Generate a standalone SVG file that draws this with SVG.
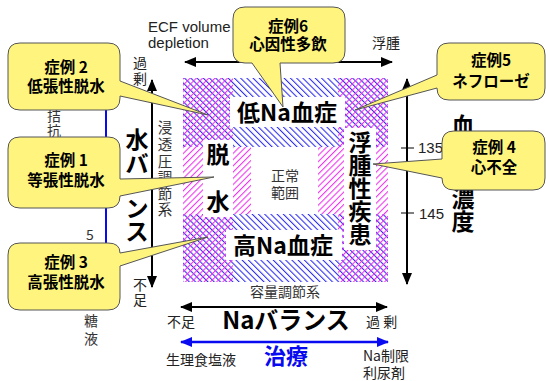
<svg xmlns="http://www.w3.org/2000/svg" width="546" height="381" viewBox="0 0 546 381">
<style>
.jp{font-family:"Noto Sans CJK JP","Noto Sans",sans-serif}
.lat{font-family:"Liberation Sans",Arial,sans-serif}
.sm{font-size:14px;fill:#222}
.big{font-size:23px;font-weight:bold;fill:#000}
.co{font-size:15.5px;font-weight:bold;fill:#000}
.callout{fill:#fff57e;stroke:#555;stroke-width:1}
.ax{stroke:#000;stroke-width:2;fill:none}
.bl{stroke:#0a0af0;stroke-width:2.5;fill:none}
</style>
<defs>
<pattern id="pm" patternUnits="userSpaceOnUse" width="4.4" height="10" patternTransform="rotate(45)"><rect x="0" y="0" width="1.05" height="10" fill="#f030f0"/></pattern>
<pattern id="pb" patternUnits="userSpaceOnUse" width="4.4" height="10" patternTransform="rotate(-45)"><rect x="0" y="0" width="1.05" height="10" fill="#2a2af0"/></pattern>
<marker id="ak" viewBox="0 0 12 10" refX="11" refY="5" markerUnits="userSpaceOnUse" markerWidth="12" markerHeight="10" orient="auto-start-reverse"><path d="M0,0 L12,5 L0,10 z" fill="#000"/></marker>
<marker id="ab" viewBox="0 0 12 10" refX="11" refY="5" markerUnits="userSpaceOnUse" markerWidth="12" markerHeight="10" orient="auto-start-reverse"><path d="M0,0 L12,5 L0,10 z" fill="#0a0af0"/></marker>
</defs>
<rect width="546" height="381" fill="#fff"/>

<g id="grid">
<rect x="183" y="78" width="205" height="204" rx="4" fill="#fff"/>
<rect x="183" y="78" width="205" height="69" fill="url(#pb)"/>
<rect x="183" y="214" width="205" height="68" fill="url(#pb)"/>
<rect x="183" y="78" width="50" height="204" fill="url(#pm)"/>
<rect x="338" y="78" width="50" height="204" fill="url(#pm)"/>
<rect x="233" y="147" width="105" height="67" fill="url(#pm)"/>
</g>

<g id="node-normal">
<rect x="251" y="147" width="67" height="67" fill="#fff"/>
<text class="jp" x="285" y="181" font-size="14" fill="#333" text-anchor="middle">正常</text>
<text class="jp" x="285" y="198" font-size="14" fill="#333" text-anchor="middle">範囲</text>
</g>
<g id="node-lowna">
<rect x="230" y="97" width="115" height="30" fill="#fff"/>
<text class="jp big" x="287" y="121" text-anchor="middle">低Na血症</text>
</g>
<g id="node-highna">
<rect x="226" y="230" width="116" height="30" fill="#fff"/>
<text class="jp big" x="283" y="254" text-anchor="middle">高Na血症</text>
</g>
<g id="node-dehyd">
<rect x="203" y="140" width="30" height="77" fill="#fff"/>
<text class="jp big" x="218" y="163" text-anchor="middle">脱</text>
<text class="jp big" x="218" y="210" text-anchor="middle">水</text>
</g>
<g id="node-edema">
<rect x="344" y="128" width="32" height="122" fill="#fff"/>
<text class="jp big" text-anchor="middle"><tspan x="360" y="151">浮</tspan><tspan x="360" y="174">腫</tspan><tspan x="360" y="197">性</tspan><tspan x="360" y="220">疾</tspan><tspan x="360" y="243">患</tspan></text>
</g>

<g id="connectors">
<line class="ax" x1="185" y1="62" x2="392" y2="62" marker-start="url(#ak)" marker-end="url(#ak)"/>
<line class="ax" x1="152" y1="80" x2="152" y2="287" marker-start="url(#ak)" marker-end="url(#ak)"/>
<line class="ax" x1="407" y1="79" x2="407" y2="284" marker-start="url(#ak)" marker-end="url(#ak)"/>
<line stroke="#000" stroke-width="1" x1="401" y1="148" x2="414" y2="148"/>
<line stroke="#000" stroke-width="1" x1="401" y1="213" x2="414" y2="213"/>
<line class="ax" x1="181" y1="307" x2="387" y2="307" marker-start="url(#ak)" marker-end="url(#ak)"/>
<line class="bl" x1="181" y1="342" x2="388" y2="342" marker-start="url(#ab)" marker-end="url(#ab)"/>
<line stroke="#0a0af0" stroke-width="2" x1="106" y1="100" x2="106" y2="258"/>
</g>

<g id="axis-labels">
<text class="lat" x="148" y="32" font-size="15" fill="#222">ECF volume</text>
<text class="lat" x="148" y="48" font-size="15" fill="#222">depletion</text>
<text class="jp sm" x="372" y="48">浮腫</text>
<text class="jp sm" text-anchor="middle"><tspan x="140" y="68">過</tspan><tspan x="140" y="84">剰</tspan></text>
<text class="jp sm" text-anchor="middle"><tspan x="140" y="290">不</tspan><tspan x="140" y="305">足</tspan></text>
<text class="jp" font-size="14.5" fill="#333" text-anchor="middle"><tspan x="165" y="133">浸</tspan><tspan x="165" y="150">透</tspan><tspan x="165" y="167">圧</tspan><tspan x="165" y="183">調</tspan><tspan x="165" y="199">節</tspan><tspan x="165" y="215">系</tspan></text>
<text class="jp big" text-anchor="middle"><tspan x="137" y="148">水</tspan><tspan x="137" y="172">バ</tspan><tspan x="137" y="195">ー</tspan><tspan x="137" y="217">ン</tspan><tspan x="137" y="240">ス</tspan></text>
<text class="jp" font-size="14" fill="#333" text-anchor="middle"><tspan x="54" y="121">拮</tspan><tspan x="54" y="136">抗</tspan></text>
<text class="jp" x="90" y="240" font-size="14" fill="#333" text-anchor="middle">5</text>
<text class="jp" font-size="14" fill="#333" text-anchor="middle"><tspan x="91" y="326">糖</tspan><tspan x="91" y="344">液</tspan></text>
<text class="lat" x="418" y="153" font-size="15" fill="#222">135</text>
<text class="lat" x="419" y="219" font-size="15" fill="#222">145</text>
<text class="jp big" font-size="21" text-anchor="middle"><tspan x="463" y="134">血</tspan><tspan x="463" y="157">清</tspan><tspan x="463" y="183">Na</tspan><tspan x="463" y="207">濃</tspan><tspan x="463" y="230">度</tspan></text>
<text class="jp" x="285" y="297" font-size="14" fill="#333" text-anchor="middle">容量調節系</text>
<text class="jp sm" x="167" y="327">不足</text>
<text class="jp" x="286" y="329" font-size="24" font-weight="bold" fill="#000" text-anchor="middle">Naバランス</text>
<text class="jp sm" x="366" y="327">過 剰</text>
<text class="jp sm" x="166" y="365">生理食塩液</text>
<text class="jp" x="286" y="364" font-size="22" font-weight="bold" fill="#0a0af0" text-anchor="middle">治療</text>
<text class="jp sm" x="363" y="361">Na制限</text>
<text class="jp sm" x="363" y="378">利尿剤</text>
</g>

<g id="callout-2">
<path class="callout" d="M20,43 H108 Q120,43 120,55 V81 L208,115 L120,96 V98 Q120,110 108,110 H20 Q8,110 8,98 V55 Q8,43 20,43 Z"/>
<text class="jp co" x="66" y="73" text-anchor="middle">症例 2</text>
<text class="jp co" x="66" y="92" text-anchor="middle">低張性脱水</text>
</g>
<g id="callout-1">
<path class="callout" d="M20,137 H108 Q120,137 120,149 V179 L214,177 L120,196 V196 Q120,208 108,208 H20 Q8,208 8,196 V149 Q8,137 20,137 Z"/>
<text class="jp co" x="66" y="166" text-anchor="middle">症例 1</text>
<text class="jp co" x="66" y="186" text-anchor="middle">等張性脱水</text>
</g>
<g id="callout-3">
<path class="callout" d="M20,243 H108 Q120,243 120,253 L208,237 L120,266 V298 Q120,310 108,310 H20 Q8,310 8,298 V255 Q8,243 20,243 Z"/>
<text class="jp co" x="66" y="268" text-anchor="middle">症例 3</text>
<text class="jp co" x="66" y="288" text-anchor="middle">高張性脱水</text>
</g>
<g id="callout-6">
<path class="callout" d="M245,7 H333 Q345,7 345,19 V51 Q345,63 333,63 H280 L283,107 L252,63 H245 Q233,63 233,51 V19 Q233,7 245,7 Z"/>
<text class="jp co" x="288" y="32" text-anchor="middle">症例6</text>
<text class="jp co" x="288" y="50" text-anchor="middle">心因性多飲</text>
</g>
<g id="callout-5">
<path class="callout" d="M449,43 H533 Q545,43 545,55 V88 Q545,100 533,100 H449 Q437,100 437,88 V88 L355,110 L437,75 V55 Q437,43 449,43 Z"/>
<text class="jp co" x="491" y="66" text-anchor="middle">症例5</text>
<text class="jp co" x="491" y="87" text-anchor="middle">ネフローゼ</text>
</g>
<g id="callout-4">
<path class="callout" d="M454,131 H533 Q545,131 545,143 V178 Q545,190 533,190 H454 Q442,190 442,178 V178 L373,164 L442,159 V143 Q442,131 454,131 Z"/>
<text class="jp co" x="494" y="153" text-anchor="middle">症例 4</text>
<text class="jp co" x="494" y="173" text-anchor="middle">心不全</text>
</g>
</svg>
